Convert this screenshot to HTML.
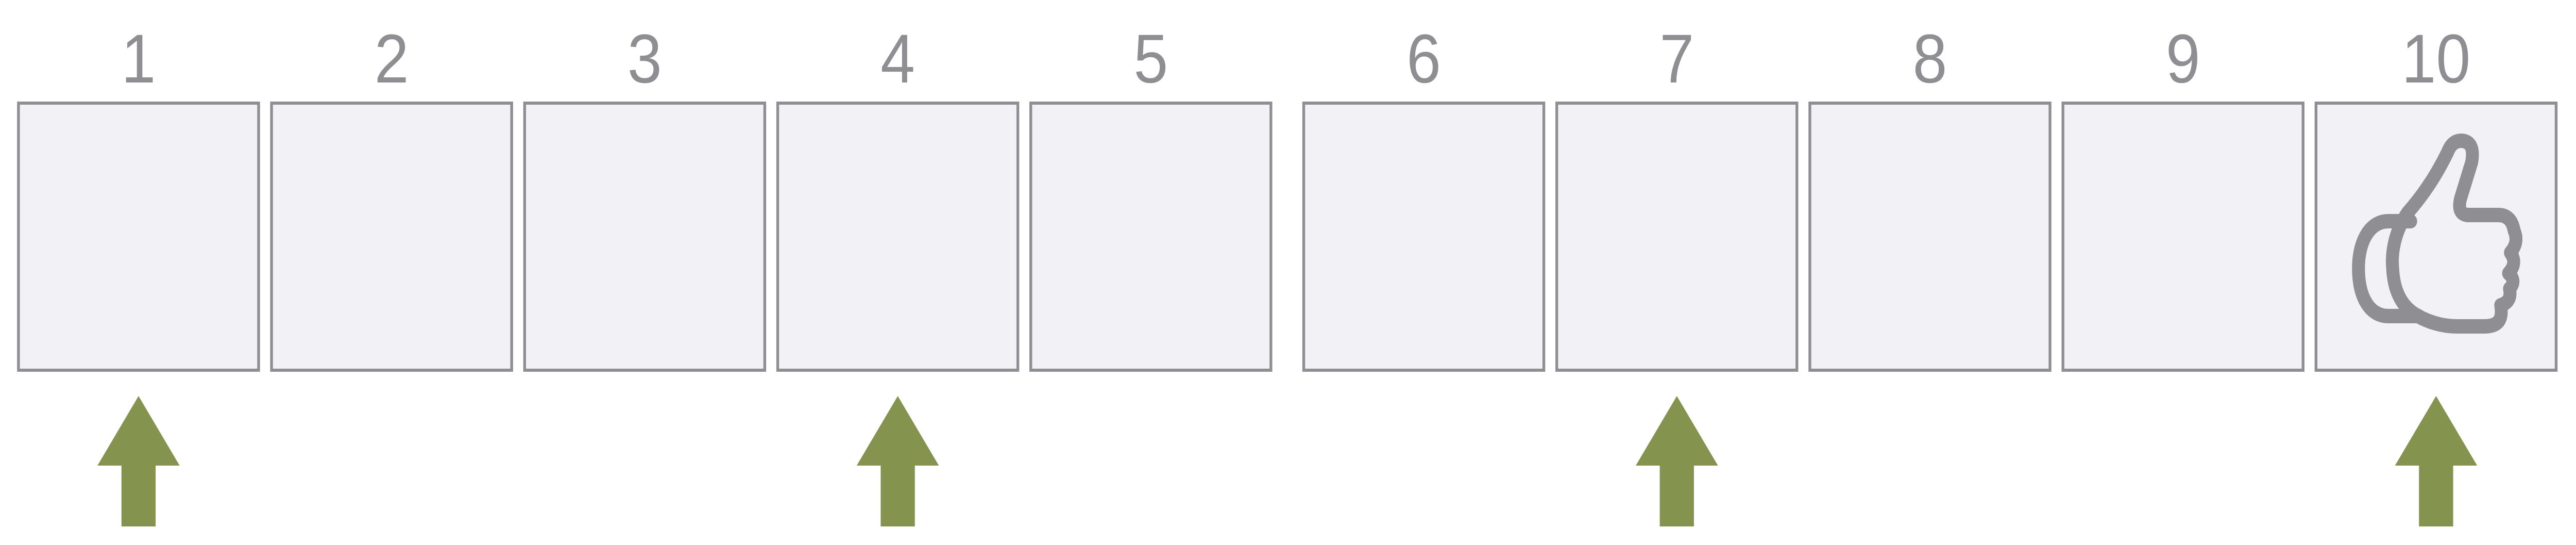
<!DOCTYPE html>
<html><head><meta charset="utf-8"><style>
html,body{margin:0;padding:0;background:#fff;width:100%;height:100%;overflow:hidden}
svg{display:block;position:absolute;left:0;top:0;width:100vw;height:100vh}
</style></head><body>
<svg id="chart" viewBox="0 0 5578 1057" preserveAspectRatio="none" xmlns="http://www.w3.org/2000/svg">
<g id="boxes"></g>
<g id="labels"></g>
<g id="arrows"></g>
<g id="thumb" fill="none" stroke="#8e8e93" stroke-width="28" stroke-linejoin="round" stroke-linecap="round">
<path d="M5220 429 L5172 429 C5130 429 5107 470 5107 520 C5107 575 5130 613 5172 613 L5237 613"/>
<path d="M5213 413 C5185 450 5178 490 5181 520 C5183 560 5198 590 5225 607 C5255 625 5290 633 5320 633 L5379 633 C5410 633 5420 620 5415 592 Q5440 585 5434 560 Q5450 545 5432 530 Q5452 510 5436 490 Q5455 470 5444 447 Q5438 417 5410 417 L5343 417 Q5320 415 5328 385 L5352 315 Q5360 275 5331 273 Q5310 272 5300 295 Q5265 360 5213 413 Z"/>
</g>
</svg>
<script>
const labels = ["1","2","3","4","5","6","7","8","9","10"];
const arrowAt = [1,4,7,10];

const SVGNS = "http://www.w3.org/2000/svg";
const boxW = 526, pitch = 548, groupGap = 2820 - 37 - 5*548, boxTop = 197, boxH = 524;
function boxX(i){ return 37 + i*pitch + (i >= 5 ? groupGap : 0); }
function cx(i){ return boxX(i) + boxW/2; }

const gB = document.getElementById('boxes');
const gL = document.getElementById('labels');
const gA = document.getElementById('arrows');
labels.forEach(function(lab, i){
  const r = document.createElementNS(SVGNS, 'rect');
  r.setAttribute('x', boxX(i) + 3);
  r.setAttribute('y', boxTop + 3);
  r.setAttribute('width', boxW - 6);
  r.setAttribute('height', boxH - 6);
  r.setAttribute('fill', '#f1f1f6');
  r.setAttribute('stroke', '#8e8e93');
  r.setAttribute('stroke-width', '6');
  
  
  gB.appendChild(r);
  const t = document.createElementNS(SVGNS, 'text');
  t.setAttribute('x', cx(i));
  t.setAttribute('y', 160);
  t.setAttribute('text-anchor', 'middle');
  t.setAttribute('font-family', 'Liberation Sans, DejaVu Sans, sans-serif');
  t.setAttribute('font-size', '134');
  t.setAttribute('fill', '#8e8e93');
  t.textContent = lab;
  
  
  gL.appendChild(t);
});
arrowAt.forEach(function(n){
  const c = cx(n - 1);
  const p = document.createElementNS(SVGNS, 'path');
  p.setAttribute('d', 'M' + c + ' 768 L' + (c+89) + ' 903 L' + (c+37) + ' 903 L' + (c+37) + ' 1021 L' + (c-37) + ' 1021 L' + (c-37) + ' 903 L' + (c-89) + ' 903 Z');
  p.setAttribute('fill', '#84944e');
  
  
  gA.appendChild(p);
});
</script>
</body></html>
